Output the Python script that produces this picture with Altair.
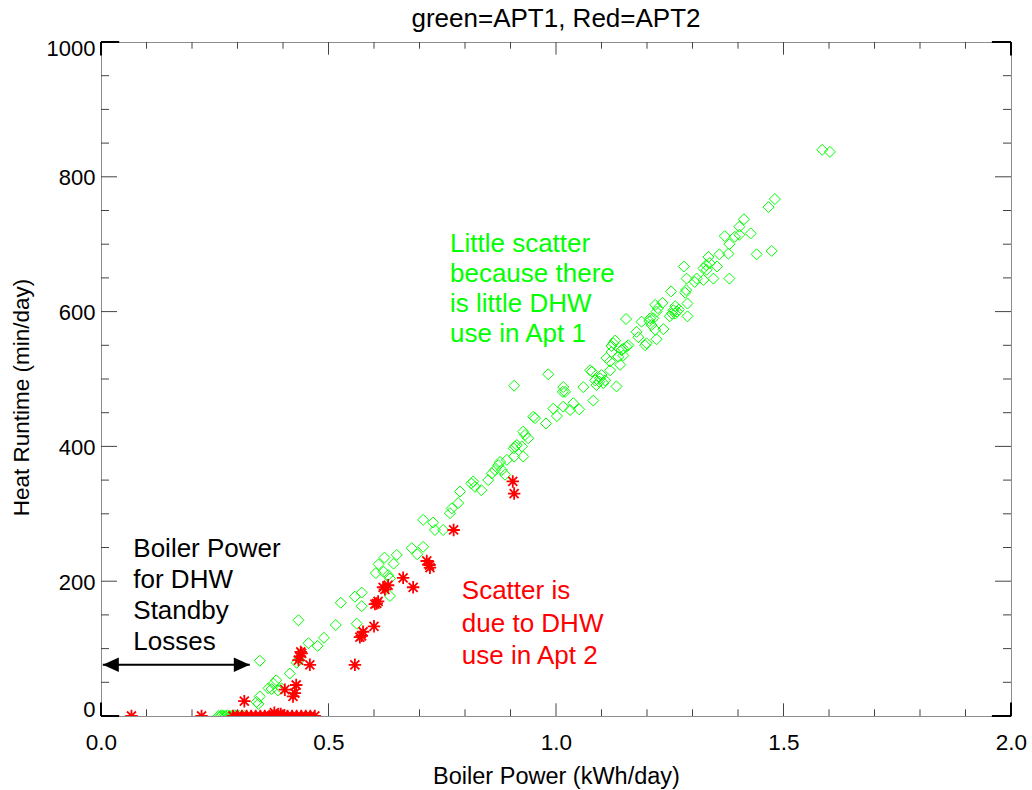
import altair as alt
import pandas as pd

# ---------------- data ----------------
apt1_x = [1.585, 1.602, 1.481, 1.467, 1.413, 1.403, 1.403, 1.393, 1.428, 1.371, 1.381, 1.379, 1.359, 1.441, 1.474, 1.335,
          1.338, 1.330, 1.324, 1.331, 1.354, 1.346, 1.381, 1.324, 1.309, 1.305, 1.287, 1.281,
          1.286, 1.284, 1.253, 1.289, 1.289, 1.262, 1.258, 1.262, 1.255, 1.250, 1.270, 1.266,
          1.234, 1.224, 1.221, 1.214, 1.205, 1.210, 1.218, 1.236, 1.188, 1.154, 1.177, 1.181, 1.221, 1.196, 1.130, 1.122, 1.155, 1.148,
          1.207, 1.218, 1.199,
          1.126, 1.159, 1.144, 1.122, 1.111, 1.119, 1.137, 1.148, 1.141,
          1.075, 1.079, 1.086, 1.097, 1.095, 1.104, 1.089, 1.100, 1.119, 1.133, 1.108,
          0.983, 0.908, 1.016, 1.015, 1.020, 1.060, 1.082,
          0.994, 1.016, 1.038, 1.031, 1.051, 1.002, 0.950, 0.954, 0.978,
          0.928, 0.932, 0.939, 0.914, 0.910, 0.925, 0.928, 0.908, 0.907,
          0.877, 0.873, 0.892, 0.881, 0.888, 0.859, 0.866, 0.851, 0.836, 0.818, 0.814, 0.822, 0.789, 0.771, 0.767, 0.785,
          0.708, 0.730, 0.734, 0.752, 0.708,
          0.683, 0.695, 0.650, 0.643, 0.623, 0.610, 0.604, 0.621, 0.631, 0.635, 0.635, 0.573, 0.558, 0.573, 0.527, 0.516, 0.562,
          0.434, 0.490, 0.476, 0.456, 0.430, 0.415, 0.397,
          0.349, 0.435, 0.385, 0.379, 0.368, 0.375, 0.389, 0.349, 0.342, 0.346,
          0.258, 0.262, 0.266, 0.270, 0.274, 0.278, 0.282, 0.286, 0.290, 0.294, 0.298, 0.305, 0.315]
apt1_y = [840, 837, 767, 755, 737, 726, 714, 711, 716, 712, 700, 686, 685, 685, 690, 681,
          672, 669, 664, 662, 667, 649, 649, 647, 649, 644, 649, 667,
          632, 628, 630, 612, 593, 608, 602, 597, 597, 593, 603, 600,
          613, 605, 600, 590, 586, 580, 573, 574, 585, 589, 570, 562, 559, 550, 557, 549, 548, 545,
          590, 610, 553,
          553, 550, 543, 540, 531, 526, 533, 535, 521,
          513, 511, 498, 501, 496, 494, 491, 506, 513, 489, 498,
          507, 490, 488, 481, 481, 488, 468,
          456, 459, 464, 454, 455, 445, 444, 442, 434,
          422, 417, 412, 402, 400, 400, 385, 385, 397,
          377, 372, 380, 365, 358, 360, 365, 350, 335, 348, 345, 340, 333, 308, 301, 316,
          291, 287, 276, 276, 251,
          249, 240, 239, 226, 235, 225, 212, 214, 209, 204, 178, 183, 177, 163, 168, 135, 137,
          142, 116, 104, 108, 79, 63, 41,
          82, 84, 53, 48, 41, 40, 38, 29, 21, 18,
          0, 0, 1, 0, 0, 1, 0, 0, 0, 1, 0, 0, 0]

apt2_x = [0.905, 0.908, 0.775, 0.716, 0.722, 0.723, 0.664, 0.686, 0.631, 0.620, 0.624, 0.606, 0.602, 0.609,
          0.600, 0.576, 0.573, 0.569, 0.558, 0.441, 0.437, 0.434, 0.439, 0.459, 0.404, 0.429, 0.426, 0.422, 0.315,
          0.067, 0.221, 0.290, 0.300, 0.310, 0.320, 0.330, 0.340, 0.350, 0.360, 0.370, 0.375, 0.380, 0.385,
          0.390, 0.395, 0.400, 0.410, 0.420, 0.430, 0.440, 0.450, 0.460, 0.470, 0.381, 0.395]
apt2_y = [348, 330, 276, 230, 224, 220, 205, 191, 194, 191, 188, 167, 166, 170,
          133, 125, 119, 117, 76, 93, 88, 83, 95, 76, 39, 46, 34, 29, 22,
          0, 0, 0, 0, 0, 0, 0, 0, 0, 0, 0, 0, 0, 0,
          0, 0, 0, 0, 0, 0, 0, 0, 0, 0, 5, 3]

x_major = [0.0, 0.5, 1.0, 1.5, 2.0]
x_minor = [0.1, 0.2, 0.3, 0.4, 0.6, 0.7, 0.8, 0.9, 1.1, 1.2, 1.3, 1.4, 1.6, 1.7, 1.8, 1.9]
y_major = [0, 200, 400, 600, 800, 1000]
y_minor = [50, 100, 150, 250, 300, 350, 450, 500, 550, 650, 700, 750, 850, 900, 950]

title_text = "green=APT1, Red=APT2"
x_title = "Boiler Power (kWh/day)"
y_title = "Heat Runtime (min/day)"

note_black = ["Boiler Power", "for DHW", "Standby", "Losses"]
note_green = ["Little scatter", "because there", "is little DHW", "use in Apt 1"]
note_red = ["Scatter is", "due to DHW", "use in Apt 2"]

# annotation anchors (data units)
note_black_pos = (0.071, 236)
note_green_pos = (0.767, 689)
note_red_pos = (0.793, 173)
arrow_y = 76
arrow_x = (0.004, 0.327)

# frame corner segments (darker parts of the IDL frame)
corners = pd.DataFrame({
    "a": [0.0, 0.0, 1.958, 1.958, 0.0, 0.0, 2.0, 2.0],
    "b": [0.04, 0.04, 2.0, 2.0, 0.0, 0.0, 2.0, 2.0],
    "c": [0, 1000, 0, 1000, 0, 980, 0, 980],
    "d": [0, 1000, 0, 1000, 20, 1000, 20, 1000],
})

W, H = 910, 674
FONT = "Liberation Sans"
GREEN = "#00ff00"
RED = "#ff0000"
TICK = "#444444"

XSCALE = alt.Scale(domain=[0, 2], nice=False, zero=False)
YSCALE = alt.Scale(domain=[0, 1000], nice=False, zero=False)

X_AXIS = alt.Axis(values=x_major, format=".1f", ticks=False, domain=False, grid=False,
                  labelFontSize=22.5, labelFont=FONT, labelColor="black", labelPadding=15,
                  title=x_title, titleFont=FONT, titleFontSize=23.5, titleFontWeight="normal",
                  titleColor="black", titleY=67, titleBaseline="alphabetic", labelFlush=False)
Y_AXIS = alt.Axis(values=y_major, format="d", ticks=False, domain=False, grid=False,
                  labelFontSize=22, labelFont=FONT, labelColor="black", labelPadding=6,
                  labelOffset={"condition": [{"test": "datum.value == 0", "value": -7},
                                             {"test": "datum.value == 1000", "value": 6}],
                               "value": 1},
                  title=y_title, titleFont=FONT, titleFontSize=22.5, titleFontWeight="normal",
                  titleColor="black", titleAngle=-90, titleX=-73, titleY=355,
                  titleBaseline="alphabetic", titleAlign="center")


def X(f):
    return alt.X(f, type="quantitative", scale=XSCALE, axis=X_AXIS)


def Y(f):
    return alt.Y(f, type="quantitative", scale=YSCALE, axis=Y_AXIS)


apt1 = pd.DataFrame({"x": apt1_x, "y": apt1_y})
apt2 = pd.DataFrame({"x": apt2_x, "y": apt2_y})

layers = []

# inward ticks (all four sides)
xm = pd.DataFrame({"v": x_major})
xn = pd.DataFrame({"v": x_minor})
ym = pd.DataFrame({"v": y_major})
yn = pd.DataFrame({"v": y_minor})
for df, ln in ((xm, 12.7), (xn, 6.7)):
    layers.append(alt.Chart(df).mark_rule(color=TICK, strokeWidth=1).encode(
        x=X("v"), y=alt.value(H), y2=alt.value(H - ln)))
    layers.append(alt.Chart(df).mark_rule(color=TICK, strokeWidth=1).encode(
        x=X("v"), y=alt.value(0), y2=alt.value(ln)))
for df, ln in ((ym, 16), (yn, 8)):
    layers.append(alt.Chart(df).mark_rule(color=TICK, strokeWidth=1).encode(
        y=Y("v"), x=alt.value(0), x2=alt.value(ln)))
    layers.append(alt.Chart(df).mark_rule(color=TICK, strokeWidth=1).encode(
        y=Y("v"), x=alt.value(W - ln), x2=alt.value(W)))

layers.append(alt.Chart(corners).mark_rule(color="black", strokeWidth=2).encode(
    x=X("a"), x2="b", y=Y("c"), y2="d"))

# scatter
layers.append(alt.Chart(apt1).mark_point(shape="diamond", filled=False, color=GREEN, size=121,
                                         strokeWidth=1, opacity=1, clip=True).encode(x=X("x"), y=Y("y")))
ASTER = "M-1,0L1,0M0,-1L0,1M-0.72,-0.72L0.72,0.72M-0.72,0.72L0.72,-0.72"
layers.append(alt.Chart(apt2).mark_point(shape=ASTER, filled=False, color=RED, size=156,
                                         strokeWidth=1.8, opacity=1, clip=True).encode(x=X("x"), y=Y("y")))

# double arrow
arrow = pd.DataFrame({"x": [arrow_x[0]], "x2": [arrow_x[1]], "y": [arrow_y]})
layers.append(alt.Chart(arrow).mark_rule(color="black", strokeWidth=2).encode(
    x=X("x"), x2="x2", y=Y("y")))
heads = pd.DataFrame({"x": [arrow_x[0]], "y": [arrow_y]})
heads2 = pd.DataFrame({"x": [arrow_x[1]], "y": [arrow_y]})
layers.append(alt.Chart(heads).mark_point(shape="M0,0L2,-0.9L2,0.9Z", filled=True, color="black",
                                          size=256, opacity=1).encode(x=X("x"), y=Y("y")))
layers.append(alt.Chart(heads2).mark_point(shape="M0,0L-2,-0.9L-2,0.9Z", filled=True, color="black",
                                           size=256, opacity=1).encode(x=X("x"), y=Y("y")))

# annotations
for lines, pos, col, lh in ((note_black, note_black_pos, "black", 31),
                            (note_green, note_green_pos, GREEN, 30),
                            (note_red, note_red_pos, RED, 32.5)):
    d = pd.DataFrame({"x": [pos[0]], "y": [pos[1]], "t": [lines]})
    layers.append(alt.Chart(d).mark_text(align="left", baseline="alphabetic", font=FONT, fontSize=26,
                                         lineHeight=lh, color=col).encode(
        x=X("x"), y=Y("y"), text="t"))

chart = alt.layer(*layers).properties(
    width=W, height=H,
    title=alt.TitleParams(title_text, font=FONT, fontSize=26, fontWeight="normal", color="black",
                          anchor="middle", offset=5),
    autosize=alt.AutoSizeParams(type="none"),
    padding={"left": 101, "top": 42, "right": 21, "bottom": 74},
    background="white",
).configure_view(stroke="#8c8c8c", strokeWidth=1)

chart.save("out.html", embed_options={"renderer": "svg", "actions": False})
